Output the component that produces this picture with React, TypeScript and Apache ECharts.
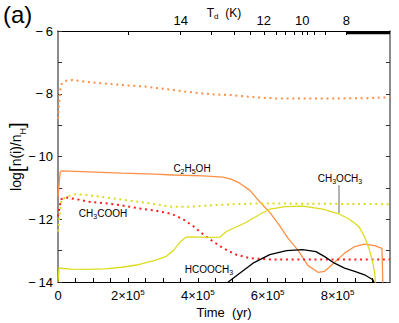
import React, { useEffect, useRef } from 'react';
import * as echarts from 'echarts';

const X_MIN = 0;
const X_MAX = 9.5e5;
const Y_MIN = -14;
const Y_MAX = -6;

// Time (yr), log abundance
const orangeDotted: number[][] = [[0,-8.8],[3e3,-8.3],[8e3,-7.75],[1.2e4,-7.66],[2.5e4,-7.58],[4.2e4,-7.56],[7.4e4,-7.61],[1.06e5,-7.65],[1.53e5,-7.69],[2.03e5,-7.74],[2.5e5,-7.77],[2.84e5,-7.82],[3.31e5,-7.88],[3.63e5,-7.93],[3.96e5,-7.97],[4.45e5,-8.02],[4.93e5,-8.04],[5.42e5,-8.09],[5.74e5,-8.12],[6.23e5,-8.15],[7.06e5,-8.15],[8.0e5,-8.15],[8.82e5,-8.14],[9.5e5,-8.11]];

const c2h5oh: number[][] = [[0,-11.28],[3e3,-10.9],[6e3,-10.51],[1e4,-10.46],[8.7e4,-10.49],[1.82e5,-10.53],[2.77e5,-10.56],[3.3e5,-10.59],[4.15e5,-10.62],[4.72e5,-10.66],[4.95e5,-10.72],[5.2e5,-10.85],[5.49e5,-11.08],[5.77e5,-11.44],[6.06e5,-11.78],[6.34e5,-12.2],[6.58e5,-12.6],[6.87e5,-12.99],[7.15e5,-13.47],[7.44e5,-13.69],[7.63e5,-13.66],[7.91e5,-13.38],[8.2e5,-13.08],[8.49e5,-12.87],[8.77e5,-12.79],[9.06e5,-12.84],[9.27e5,-12.93],[9.3e5,-14.3]];

const yellowDotted: number[][] = [[0,-12.39],[3e3,-12.07],[1e4,-11.38],[2.5e4,-11.28],[5.1e4,-11.2],[8.7e4,-11.23],[1.34e5,-11.3],[1.82e5,-11.37],[2.3e5,-11.44],[2.77e5,-11.52],[3.25e5,-11.6],[3.77e5,-11.6],[4.63e5,-11.54],[5.58e5,-11.5],[6.5e5,-11.5],[8e5,-11.51],[9.5e5,-11.52]];

const ch3cooh: number[][] = [[0,-11.91],[3e3,-11.7],[9e3,-11.36],[2.5e4,-11.31],[5.3e4,-11.36],[8.7e4,-11.44],[1.34e5,-11.49],[1.82e5,-11.56],[2.3e5,-11.65],[2.77e5,-11.72],[3.25e5,-11.83],[3.58e5,-12.0],[3.87e5,-12.22],[4.15e5,-12.48],[4.44e5,-12.71],[4.72e5,-12.92],[5.1e5,-13.13],[5.49e5,-13.24],[6.06e5,-13.28],[7e5,-13.28],[9.5e5,-13.28]];

const ch3och3: number[][] = [[0,-14.0],[3e3,-13.55],[1.5e4,-13.57],[3.9e4,-13.59],[8.7e4,-13.6],[1.34e5,-13.58],[1.82e5,-13.53],[2.3e5,-13.45],[2.77e5,-13.31],[3.1e5,-13.18],[3.3e5,-13.0],[3.5e5,-12.72],[3.65e5,-12.58],[3.8e5,-12.56],[4.34e5,-12.58],[4.63e5,-12.57],[4.82e5,-12.39],[5.35e5,-12.12],[5.83e5,-11.81],[6.06e5,-11.68],[6.5e5,-11.6],[7.0e5,-11.58],[7.58e5,-11.68],[8.06e5,-11.84],[8.34e5,-12.0],[8.6e5,-12.22],[8.77e5,-12.55],[8.91e5,-12.97],[9.01e5,-13.4],[9.06e5,-13.7],[9.09e5,-14.1]];

const hcooch3: number[][] = [[4.87e5,-14.0],[5.2e5,-13.72],[5.58e5,-13.4],[6.06e5,-13.13],[6.54e5,-13.0],[7.0e5,-12.97],[7.38e5,-13.03],[7.63e5,-13.19],[7.91e5,-13.4],[8.2e5,-13.56],[8.49e5,-13.66],[8.77e5,-13.77],[9.01e5,-13.93],[9.05e5,-14.05]];

// bottom axis
const timeLabels = [0, 2e5, 4e5, 6e5, 8e5];
const timeTicks = [0,5e4,1e5,1.5e5,2e5,2.5e5,3e5,3.5e5,4e5,4.5e5,5e5,5.5e5,6e5,6.5e5,7e5,7.5e5,8e5,8.5e5,9e5];
// top axis: dust temperature (K) at times (yr)
const tdTemps = [14.5, 14, 13.5, 13, 12.5, 12, 11.5, 11, 10.5, 10, 9.5, 9, 8.5, 8];
const tdTimes = [2.0e5, 3.51e5, 4.39e5, 5.03e5, 5.51e5, 5.89e5, 6.25e5, 6.51e5, 6.77e5, 6.99e5, 7.14e5, 7.34e5, 7.66e5, 8.25e5];
const tdLabelTemps = [14, 12, 10, 8];
const tdColdStart = 8.25e5; // below 8 K: dense ticks

const FONT = 'Liberation Sans';
const ORANGE = '#FF8F45';
const YELLOW = '#DCDC1E';
const RED = '#FF1E1E';

export default function App() {
  const ref = useRef<HTMLDivElement>(null);
  useEffect(() => {
    if (!ref.current) return;
    const chart = echarts.init(ref.current, null, { renderer: 'svg' });
    const subRich = {
      m: { fontSize: 10, fontFamily: FONT, color: '#000', lineHeight: 12, verticalAlign: 'top' },
      s: { fontSize: 7, fontFamily: FONT, color: '#000', lineHeight: 7, verticalAlign: 'bottom' },
    };
    const tdLabelTimes = tdLabelTemps.map((T) => tdTimes[tdTemps.indexOf(T)]);
    const minusFmt = (v: number) => (v < 0 ? '\u2212\u2009' + Math.abs(v) : String(v));
    const dotted = [2, 3.7];
    chart.setOption({
      animation: false,
      grid: { left: 58, right: 9, top: 31, bottom: 41, containLabel: false, outerBoundsMode: 'none' },
      xAxis: [
        {
          type: 'value', position: 'bottom', min: X_MIN, max: X_MAX,
          name: 'Time  (yr)', nameLocation: 'middle', nameGap: 24, nameMoveOverlap: false,
          nameTextStyle: { fontFamily: FONT, fontSize: 13, color: '#000' },
          axisLine: { show: true, onZero: false, lineStyle: { color: '#000', width: 1 } },
          axisTick: { show: true, inside: true, length: 4, customValues: timeTicks, lineStyle: { color: '#000' } },
          axisLabel: {
            customValues: timeLabels, margin: 6, fontFamily: FONT, fontSize: 13, color: '#000',
            formatter: (v: number) => (v === 0 ? '{m|0}' : `{m|${v / 1e5}×10}{p|5}`),
            rich: {
              m: { fontSize: 13, fontFamily: FONT, color: '#000', lineHeight: 14, verticalAlign: 'bottom' },
              p: { fontSize: 8, fontFamily: FONT, color: '#000', lineHeight: 8, verticalAlign: 'top' },
            },
          },
          splitLine: { show: false },
        },
        {
          type: 'value', position: 'top', min: X_MIN, max: X_MAX,
          name: '{m|T}{s|d}{m|  (K)}', nameLocation: 'middle', nameGap: 11, nameMoveOverlap: false,
          nameTextStyle: {
            fontFamily: FONT, fontSize: 12, color: '#000',
            rich: {
              m: { fontSize: 12, fontFamily: FONT, color: '#000', lineHeight: 13, verticalAlign: 'top' },
              s: { fontSize: 8, fontFamily: FONT, color: '#000', lineHeight: 8, verticalAlign: 'bottom' },
            },
          },
          axisLine: { show: true, onZero: false, lineStyle: { color: '#000', width: 1 } },
          axisTick: { show: true, inside: true, length: 4, customValues: tdTimes, lineStyle: { color: '#000' } },
          axisLabel: {
            customValues: tdLabelTimes, margin: 4, fontFamily: FONT, fontSize: 13, color: '#000',
            formatter: (v: number) => {
              const i = tdTimes.indexOf(v);
              return i >= 0 ? String(tdTemps[i]) : '';
            },
          },
          splitLine: { show: false },
        },
      ],
      yAxis: [
        {
          type: 'value', position: 'left', min: Y_MIN, max: Y_MAX, interval: 1,
          name: '{m|log}{b|[}{m|n(i)/n}{s|H}{b|]}', nameLocation: 'middle', nameGap: 31, nameMoveOverlap: false,
          nameTextStyle: {
            fontFamily: FONT, fontSize: 14, color: '#000',
            rich: {
              m: { fontSize: 14, fontFamily: FONT, color: '#000', lineHeight: 18, verticalAlign: 'middle' },
              b: { fontSize: 21, fontFamily: FONT, color: '#000', lineHeight: 22, verticalAlign: 'middle' },
              s: { fontSize: 9, fontFamily: FONT, color: '#000', lineHeight: 9, verticalAlign: 'bottom' },
            },
          },
          axisLine: { show: true, onZero: false, lineStyle: { color: '#666', width: 1.5 } },
          axisTick: { show: true, inside: true, length: 4, lineStyle: { color: '#333' } },
          axisLabel: {
            margin: 5, fontFamily: FONT, fontSize: 13, color: '#000',
            formatter: (v: number) => (Math.round(v) % 2 === 0 ? minusFmt(v) : ''),
          },
          splitLine: { show: false },
        },
        {
          type: 'value', position: 'right', min: Y_MIN, max: Y_MAX, interval: 1,
          axisLine: { show: true, onZero: false, lineStyle: { color: '#666', width: 1.5 } },
          axisTick: { show: true, inside: true, length: 4, lineStyle: { color: '#333' } },
          axisLabel: { show: false },
          splitLine: { show: false },
        },
      ],
      graphic: [
        { type: 'text', left: 3, top: 2, style: { text: '(a)', fontFamily: FONT, fontSize: 24, fill: '#000' } },
        { type: 'text', x: 192, y: 169, style: { text: '{m|C}{s|2}{m|H}{s|5}{m|OH}', rich: subRich, align: 'center', verticalAlign: 'middle' } },
        { type: 'text', x: 103, y: 214, style: { text: '{m|CH}{s|3}{m|COOH}', rich: subRich, align: 'center', verticalAlign: 'middle' } },
        { type: 'text', x: 340, y: 179, style: { text: '{m|CH}{s|3}{m|OCH}{s|3}', rich: subRich, align: 'center', verticalAlign: 'middle' } },
        { type: 'text', x: 209, y: 270, style: { text: '{m|HCOOCH}{s|3}', rich: subRich, align: 'center', verticalAlign: 'middle' } },
      ],
      series: [
        {
          type: 'line', data: orangeDotted, showSymbol: false, symbol: 'none', clip: true,
          lineStyle: { color: ORANGE, width: 2, type: dotted },
          markArea: {
            silent: true,
            itemStyle: { color: '#000' },
            data: [[{ coord: [tdColdStart, Y_MAX] }, { coord: [X_MAX, Y_MAX - 0.1] }]],
          },
        },
        { type: 'line', data: c2h5oh, showSymbol: false, symbol: 'none', clip: true, lineStyle: { color: ORANGE, width: 1.3 } },
        { type: 'line', data: yellowDotted, showSymbol: false, symbol: 'none', clip: true, lineStyle: { color: YELLOW, width: 2, type: dotted } },
        { type: 'line', data: ch3cooh, showSymbol: false, symbol: 'none', clip: true, lineStyle: { color: RED, width: 2, type: dotted } },
        {
          type: 'line', data: ch3och3, showSymbol: false, symbol: 'none', clip: true, lineStyle: { color: YELLOW, width: 1.3 },
          markLine: {
            silent: true, symbol: 'none', label: { show: false },
            lineStyle: { color: '#999', width: 1.5, type: 'solid' },
            data: [[{ coord: [8.04e5, -10.92] }, { coord: [8.04e5, -11.8] }]],
          },
        },
        { type: 'line', data: hcooch3, showSymbol: false, symbol: 'none', clip: true, lineStyle: { color: '#000', width: 1.3 } },
      ],
    });
    return () => chart.dispose();
  }, []);
  return <div ref={ref} style={{ position: 'fixed', left: 0, top: 0, width: 399, height: 323, background: '#fff' }} />;
}
